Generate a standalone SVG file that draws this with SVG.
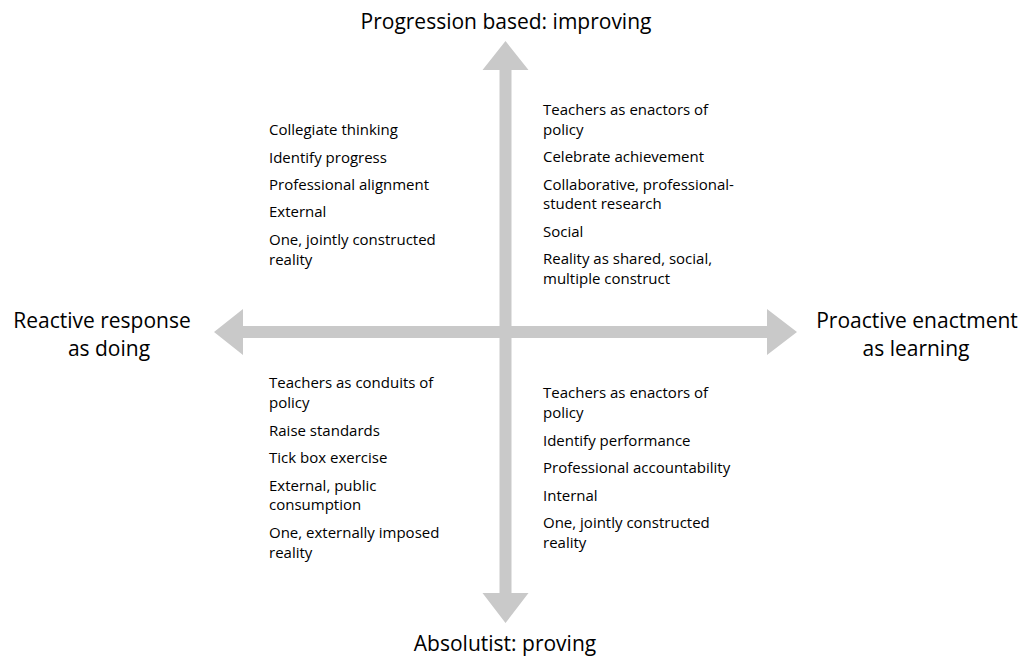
<svg xmlns="http://www.w3.org/2000/svg" width="1028" height="657" viewBox="0 0 1028 657">
<style>
.axis{fill:#c9c9c9;stroke:none}
.lbl{font-family:"Open Sans","Liberation Sans",sans-serif;font-size:21px;fill:#000;text-anchor:middle}
.item{font-family:"Open Sans","Liberation Sans",sans-serif;font-size:15px;fill:#000}
</style>
<rect width="1028" height="657" fill="#fff"/>
<g id="connectors">
<polygon class="axis" points="505.5,41 528.5,70 511.5,70 511.5,593 528.5,593 505.5,623 482.5,593 499.5,593 499.5,70 482.5,70"/>
<polygon class="axis" points="214,332 243,309 243,326 767,326 767,309 797,332 767,355 767,338 243,338 243,355"/>
</g>
<g id="top-label"><text class="lbl" x="506" y="29">Progression based: improving</text></g>
<g id="bottom-label"><text class="lbl" x="505" y="651">Absolutist: proving</text></g>
<g id="left-label"><text class="lbl" x="102" y="328">Reactive response</text><text class="lbl" x="109" y="356">as doing</text></g>
<g id="right-label"><text class="lbl" x="917" y="328">Proactive enactment</text><text class="lbl" x="916" y="356">as learning</text></g>
<g id="q-top-left" class="item">
<text x="269" y="135">Collegiate thinking</text>
<text x="269" y="163">Identify progress</text>
<text x="269" y="190">Professional alignment</text>
<text x="269" y="217">External</text>
<text x="269" y="245">One, jointly constructed</text>
<text x="269" y="265">reality</text>
</g>
<g id="q-top-right" class="item">
<text x="543" y="115">Teachers as enactors of</text>
<text x="543" y="135">policy</text>
<text x="543" y="162">Celebrate achievement</text>
<text x="543" y="190">Collaborative, professional-</text>
<text x="543" y="209">student research</text>
<text x="543" y="237">Social</text>
<text x="543" y="264">Reality as shared, social,</text>
<text x="543" y="284">multiple construct</text>
</g>
<g id="q-bottom-left" class="item">
<text x="269" y="388">Teachers as conduits of</text>
<text x="269" y="408">policy</text>
<text x="269" y="436">Raise standards</text>
<text x="269" y="463">Tick box exercise</text>
<text x="269" y="491">External, public</text>
<text x="269" y="510">consumption</text>
<text x="269" y="538">One, externally imposed</text>
<text x="269" y="558">reality</text>
</g>
<g id="q-bottom-right" class="item">
<text x="543" y="398">Teachers as enactors of</text>
<text x="543" y="418">policy</text>
<text x="543" y="446">Identify performance</text>
<text x="543" y="473">Professional accountability</text>
<text x="543" y="501">Internal</text>
<text x="543" y="528">One, jointly constructed</text>
<text x="543" y="548">reality</text>
</g>
</svg>
